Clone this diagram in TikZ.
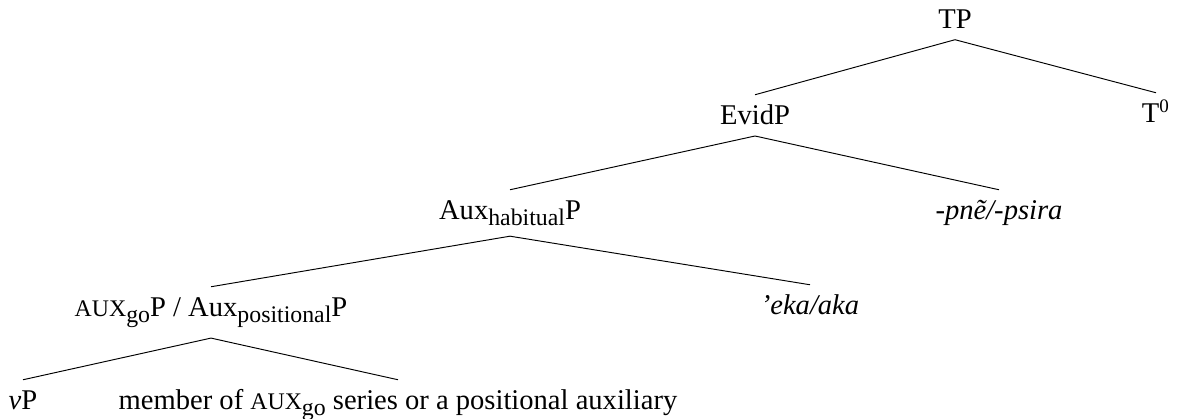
\documentclass[tikz,border=0pt]{standalone}
\usepackage{fontspec}
\setmainfont{Liberation Serif}

\newcommand{\auxsc}{{\fontsize{10}{10}\selectfont AUX}}
\newcommand{\lowsub}[1]{\raisebox{-2.2pt}{\fontsize{10}{10}\selectfont #1}}

\begin{document}
\begin{tikzpicture}[x=0.42pt,y=-0.42pt,
        every node/.style={font=\fontsize{12}{14}\selectfont},
        cat/.style={anchor=base,inner sep=4.3pt,text height=8.2pt}]
        \useasboundingbox (0,0) rectangle (1178,419);
        \node[cat] (tp) at (955,29) {TP};
        \node[cat] (evidp) at (755,125) {EvidP};
        \node[cat] (tzero) at (1156,123) {T\textsuperscript{0}};
        \node[cat] (habp) at (510,220) {Aux\lowsub{habitual}P};
        \node[cat] (pne) at (999,220) {\textit{-pnẽ/-psira}};
        \node[cat] (auxp) at (211,317) {\auxsc\lowsub{go}P / Aux\lowsub{positional}P};
        \node[cat] (eka) at (810,315) {\textit{'eka/aka}};
        \node[cat] (vp) at (23,410) {\textit{v}P};
        \node[cat] (member) at (398,410) {member of \auxsc\lowsub{go} series or a positional auxiliary};
        \path
        (tp.south) edge (evidp.north)
        (tp.south) edge (tzero.north)
        (evidp.south) edge (habp.north)
        (evidp.south) edge (pne.north)
        (habp.south) edge (auxp.north)
        (habp.south) edge (eka.north)
        (auxp.south) edge (vp.north)
        (auxp.south) edge (member.north);
    \end{tikzpicture}
\end{document}
